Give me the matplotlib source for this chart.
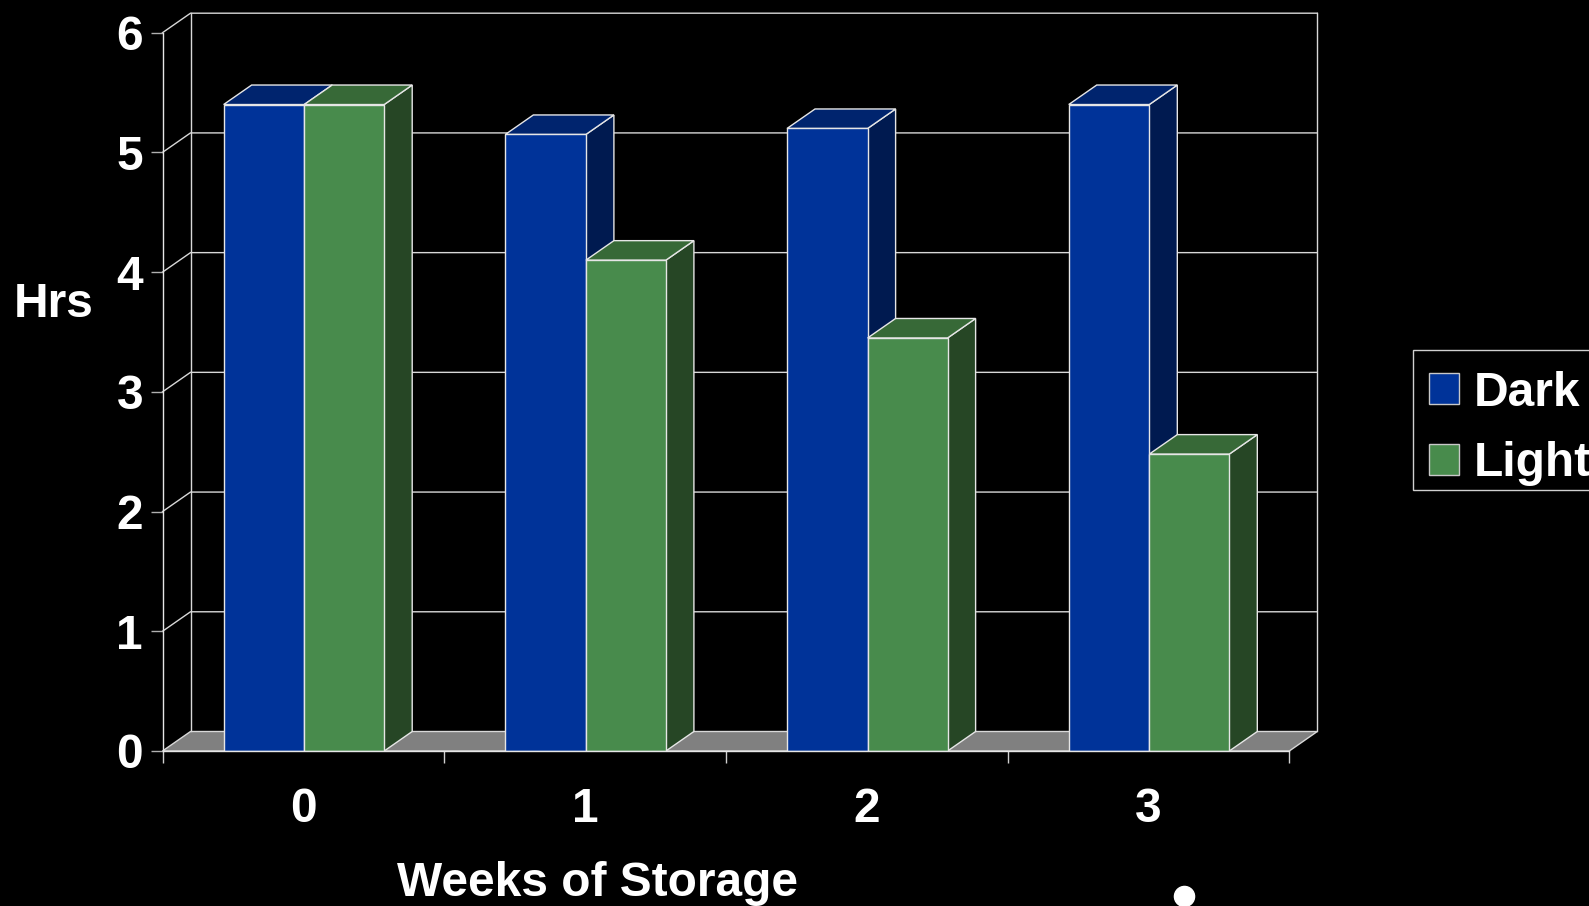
import numpy as np
import matplotlib
matplotlib.use('Agg')
import matplotlib.pyplot as plt
from matplotlib.patches import Patch, Polygon, Rectangle

plt.rcParams['font.family'] = ['Liberation Sans', 'DejaVu Sans']
plt.rcParams['font.weight'] = 'bold'

##### DATA #####
weeks = ['0', '1', '2', '3']
dark = [5.40, 5.15, 5.20, 5.40]
light = [5.40, 4.10, 3.45, 2.48]
y_ticks = [0, 1, 2, 3, 4, 5, 6]

##### STYLE #####
W, H = 1589, 906
edge = '#e6e6e6'
grid_c = '#d8d8d8'
dark_cols = ('#003399', '#00246E', '#001A50')   # front, top, side
light_cols = ('#488B4C', '#376937', '#264625')
dark_w = 0.286
light_w = 0.284
group_off = 0.217
dx = 28 / 281.6     # depth of the 3d look, data units
dy = 19.5 / 119.7
fs = 34.5

fig = plt.figure(figsize=(W / 100, H / 100), dpi=100, facecolor='black')
ax = fig.add_axes([162.5 / W, 1 - 751 / H, 1126.8 / W, 718.3 / H], facecolor='none')
ax.set_xlim(0, len(weeks))
ax.set_ylim(0, y_ticks[-1])

# floor
ax.add_patch(Polygon([(0, 0), (4, 0), (4 + dx, dy), (dx, dy)], closed=True,
                     fc='#808080', ec=grid_c, lw=1, zorder=1, clip_on=False))

# back wall and gridlines
for v in y_ticks[1:]:
    ax.plot([0, dx, 4 + dx], [v, v + dy, v + dy], color=grid_c, lw=1, zorder=1, clip_on=False)
ax.plot([dx, dx], [dy, 6 + dy], color=grid_c, lw=1, zorder=1, clip_on=False)
ax.plot([4 + dx, 4 + dx], [dy, 6 + dy], color=grid_c, lw=1, zorder=1, clip_on=False)


def bar3d(x, h, w, cols, z):
    ax.add_patch(Polygon([(x + w, 0), (x + w + dx, dy), (x + w + dx, h + dy), (x + w, h)],
                         closed=True, fc=cols[2], ec=edge, lw=1, zorder=z, clip_on=False))
    ax.add_patch(Polygon([(x, h), (x + w, h), (x + w + dx, h + dy), (x + dx, h + dy)],
                         closed=True, fc=cols[1], ec=edge, lw=1, zorder=z, clip_on=False))
    ax.bar(x, h, width=w, align='edge', color=cols[0], edgecolor=edge, lw=1, zorder=z + 0.1)


for i in range(len(weeks)):
    bar3d(i + group_off, dark[i], dark_w, dark_cols, 2 + i)
    bar3d(i + group_off + dark_w, light[i], light_w, light_cols, 2.5 + i)

##### AXES #####
for s in ['top', 'right']:
    ax.spines[s].set_visible(False)
for s in ['left', 'bottom']:
    ax.spines[s].set_color(edge)
    ax.spines[s].set_linewidth(1)
    ax.spines[s].set_zorder(20)

ax.set_yticks(y_ticks)
ax.set_yticklabels([str(v) for v in y_ticks])
ax.tick_params(axis='y', length=9, width=1, color='#b0b0b0', pad=5, labelcolor='white', labelsize=fs)

ax.set_xticks(np.arange(len(weeks) + 1))
ax.set_xticklabels([])
ax.set_xticks(np.arange(len(weeks)) + 0.5, minor=True)
ax.set_xticklabels(weeks, minor=True)
ax.tick_params(axis='x', which='major', length=8.6, width=1, color='#d0d0d0')
ax.tick_params(axis='x', which='minor', length=0, pad=26, labelcolor='white', labelsize=fs)

ax.set_xlabel('Weeks of Storage', color='white', fontsize=fs, fontweight='bold', va='center')
ax.xaxis.set_label_coords(0.386, -0.184)
ax.set_ylabel('Hrs', color='white', fontsize=fs, fontweight='bold', rotation=0, ha='center', va='center')
ax.yaxis.set_label_coords(-0.097, 0.622)

##### LEGEND #####
# frame drawn apart, the text sits lower in it than a legend frame allows
fig.add_artist(Rectangle((1413 / W, 1 - 490 / H), 200 / W, 140 / H, transform=fig.transFigure,
                         fc='black', ec='#d0d0d0', lw=1))
handles = [Patch(facecolor=dark_cols[0], edgecolor='#c8c8c8', label='Dark'),
           Patch(facecolor=light_cols[0], edgecolor='#c8c8c8', label='Light')]
leg = fig.legend(handles=handles, loc='upper left', bbox_to_anchor=(1413 / W, 1 - 355 / H),
                 borderaxespad=0, fontsize=fs, frameon=False, labelcolor='white',
                 handlelength=0.63, handleheight=0.62, handletextpad=0.31,
                 borderpad=0.33, labelspacing=0.525)

# stray bullet bottom right
fig.add_artist(plt.Line2D([1184 / W], [1 - 896 / H], marker='o', ms=14.5, color='white',
                          mec='white', transform=fig.transFigure))

fig.savefig('out.png', dpi=100, facecolor='black')
